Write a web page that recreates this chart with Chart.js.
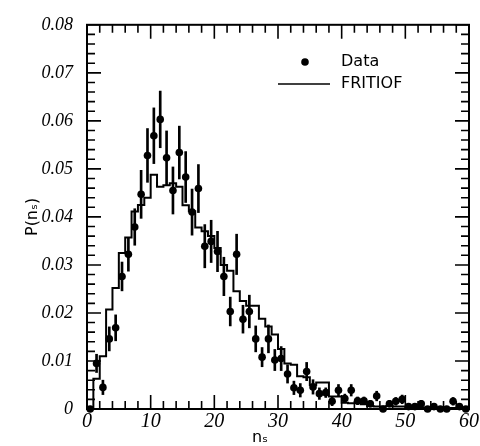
<!DOCTYPE html>
<html><head><meta charset="utf-8">
<script src="https://cdn.jsdelivr.net/npm/chart.js@4.4.1/dist/chart.umd.min.js"></script>
<style>html,body{margin:0;padding:0;background:#fff}canvas{display:block}</style>
</head><body>
<canvas id="c" width="480" height="446"></canvas>
<script>
// n_s bin centres (data points) and bin edges (FRITIOF histogram)
const binCenters = [0.5,1.5,2.5,3.5,4.5,5.5,6.5,7.5,8.5,9.5,10.5,11.5,12.5,13.5,14.5,15.5,16.5,17.5,18.5,19.5,
  20.5,21.5,22.5,23.5,24.5,25.5,26.5,27.5,28.5,29.5,30.5,31.5,32.5,33.5,34.5,35.5,36.5,37.5,38.5,39.5,
  40.5,41.5,42.5,43.5,44.5,45.5,46.5,47.5,48.5,49.5,50.5,51.5,52.5,53.5,54.5,55.5,56.5,57.5,58.5,59.5];
const binEdges = [0,1,2,3,4,5,6,7,8,9,10,11,12,13,14,15,16,17,18,19,20,21,22,23,24,25,26,27,28,29,30,
  31,32,33,34,35,36,37,38,39,40,41,42,43,44,45,46,47,48,49,50,51,52,53,54,55,56,57,58,59,60];
// Data P(n_s)
const dataP = [0.0000,0.0095,0.0045,0.0146,0.0169,0.0276,0.0322,0.0379,0.0447,0.0528,
  0.0569,0.0603,0.0523,0.0455,0.0534,0.0483,0.0410,0.0459,0.0339,0.0349,
  0.0328,0.0276,0.0203,0.0322,0.0187,0.0203,0.0146,0.0108,0.0146,0.0102,
  0.0105,0.0073,0.0044,0.0039,0.0078,0.0046,0.0032,0.0034,0.0016,0.0039,
  0.0022,0.0039,0.0017,0.0017,0.0011,0.0027,0.0000,0.0011,0.0016,0.0020,
  0.0005,0.0005,0.0011,0.0000,0.0005,0.0000,0.0000,0.0016,0.0005,0.0000];
// Data errors
const dataErr = [0.0004,0.0019,0.0015,0.0025,0.0027,0.0030,0.0035,0.0038,0.0050,0.0056,
  0.0058,0.0059,0.0056,0.0049,0.0055,0.0053,0.0048,0.0050,0.0045,0.0044,
  0.0042,0.0040,0.0030,0.0042,0.0029,0.0034,0.0027,0.0020,0.0029,0.0022,
  0.0025,0.0019,0.0014,0.0014,0.0019,0.0015,0.0012,0.0010,0.0009,0.0012,
  0.0009,0.0012,0.0008,0.0008,0.0007,0.0010,0.0004,0.0007,0.0008,0.0009,
  0.0005,0.0005,0.0007,0.0004,0.0005,0.0004,0.0004,0.0008,0.0005,0.0004];
// FRITIOF histogram, one value per unit bin [k, k+1]
const fritiofP = [0.0000,0.0063,0.0110,0.0207,0.0252,0.0325,0.0357,0.0411,0.0425,0.0440,
  0.0488,0.0463,0.0466,0.0470,0.0463,0.0424,0.0412,0.0378,0.0370,0.0360,
  0.0335,0.0300,0.0288,0.0245,0.0225,0.0215,0.0215,0.0188,0.0172,0.0155,
  0.0125,0.0095,0.0092,0.0068,0.0066,0.0050,0.0055,0.0055,0.0026,0.0026,
  0.0013,0.0012,0.0012,0.0010,0.0006,0.0005,0.0005,0.0006,0.0005,0.0005,
  0.0004,0.0004,0.0003,0.0003,0.0003,0.0002,0.0002,0.0002,0.0001,0.0001];
const xTickLabels = ['0','10','20','30','40','50','60'];
const yTickLabels = ['0','0.01','0.02','0.03','0.04','0.05','0.06','0.07','0.08'];
const seriesNames = ['Data','FRITIOF'];

const pointData = binCenters.map((x,i)=>({x:x, y:dataP[i]}));
const errData = binCenters.map((x,i)=>({x:x, y:[dataP[i]-dataErr[i], dataP[i]+dataErr[i]]}));
const histData = binEdges.map((x,i)=>({x:x, y:fritiofP[Math.min(i, fritiofP.length-1)]}));

const frame = {
  id:'frame',
  afterDatasetsDraw(chart){
    const ctx = chart.ctx, a = chart.chartArea;
    const xs = chart.scales.x, ys = chart.scales.y;
    ctx.save();
    ctx.strokeStyle = '#000';
    ctx.lineWidth = 1.6;
    ctx.beginPath();
    xs.ticks.forEach(t=>{
      const p = xs.getPixelForValue(t.value);
      const major = Math.round(t.value) % 10 === 0;
      const L = major ? 14 : 8;
      ctx.moveTo(p, a.bottom); ctx.lineTo(p, a.bottom - L);
      ctx.moveTo(p, a.top); ctx.lineTo(p, a.top + L);
    });
    ys.ticks.forEach(t=>{
      const p = ys.getPixelForValue(t.value);
      const major = Math.round(t.value*1000) % 10 === 0;
      const L = major ? 14 : 8;
      ctx.moveTo(a.left, p); ctx.lineTo(a.left + L, p);
      ctx.moveTo(a.right, p); ctx.lineTo(a.right - L, p);
    });
    ctx.stroke();
    ctx.lineWidth = 2;
    ctx.strokeRect(a.left, a.top, a.right - a.left, a.bottom - a.top);
    // legend
    ctx.fillStyle = '#000';
    ctx.beginPath(); ctx.arc(305, 62, 3.8, 0, Math.PI*2); ctx.fill();
    ctx.lineWidth = 1.5;
    ctx.beginPath(); ctx.moveTo(278, 84); ctx.lineTo(330, 84); ctx.stroke();
    ctx.font = '16px "DejaVu Sans"';
    ctx.textBaseline = 'middle'; ctx.textAlign = 'left';
    ctx.fillText(seriesNames[0], 341, 62);
    ctx.fillText(seriesNames[1], 341, 84);
    // x-axis title
    ctx.font = '16px "DejaVu Sans"';
    ctx.textAlign = 'center';
    ctx.fillText('nₛ', 260, 438);
    ctx.restore();
  }
};

new Chart(document.getElementById('c'), {
  type: 'scatter',
  data: { datasets: [
    { type:'bar', label:'err', data: errData, backgroundColor:'#000', borderWidth:0,
      barThickness: 2, grouped:false, clip:false, order:3 },
    { type:'line', label: seriesNames[1], data: histData, stepped: true, borderColor:'#000',
      borderWidth: 2, pointRadius: 0, fill:false, order:2 },
    { type:'scatter', label: seriesNames[0], data: pointData, backgroundColor:'#000',
      borderWidth:0, pointRadius: 3.8, clip:false, order:1 }
  ]},
  options: {
    responsive:false, animation:false, devicePixelRatio:1,
    layout:{ padding:{ top:16, right:11, left:0, bottom:0 } },
    plugins:{ legend:{display:false}, tooltip:{enabled:false} },
    scales:{
      x:{ type:'linear', min:0, max:60, offset:false,
        grid:{display:false, drawTicks:false, offset:false}, border:{display:false},
        afterFit(s){ s.height = 37; },
        ticks:{ stepSize:2, autoSkip:false, maxRotation:0, maxTicksLimit:100, padding:1, color:'#000',
          font:{ family:'"Liberation Serif"', style:'italic', size:20 },
          callback(v){ const r = Math.round(v); return r % 10 === 0 ? xTickLabels[r/10] : ''; } }
      },
      y:{ type:'linear', min:0, max:0.08,
        grid:{display:false, drawTicks:false}, border:{display:false},
        afterFit(s){ s.width = 87; },
        title:{ display:true, text:'P(nₛ)', color:'#000', padding:{top:23, bottom:0},
          font:{ family:'"DejaVu Sans"', size:16 } },
        ticks:{ stepSize:0.002, autoSkip:false, maxTicksLimit:100, padding:14, color:'#000',
          font:{ family:'"Liberation Serif"', style:'italic', size:18 },
          callback(v){ const r = Math.round(v*1000); return r % 10 === 0 ? yTickLabels[r/10] : ''; } }
      }
    }
  },
  plugins:[frame]
});
</script>
</body></html>
